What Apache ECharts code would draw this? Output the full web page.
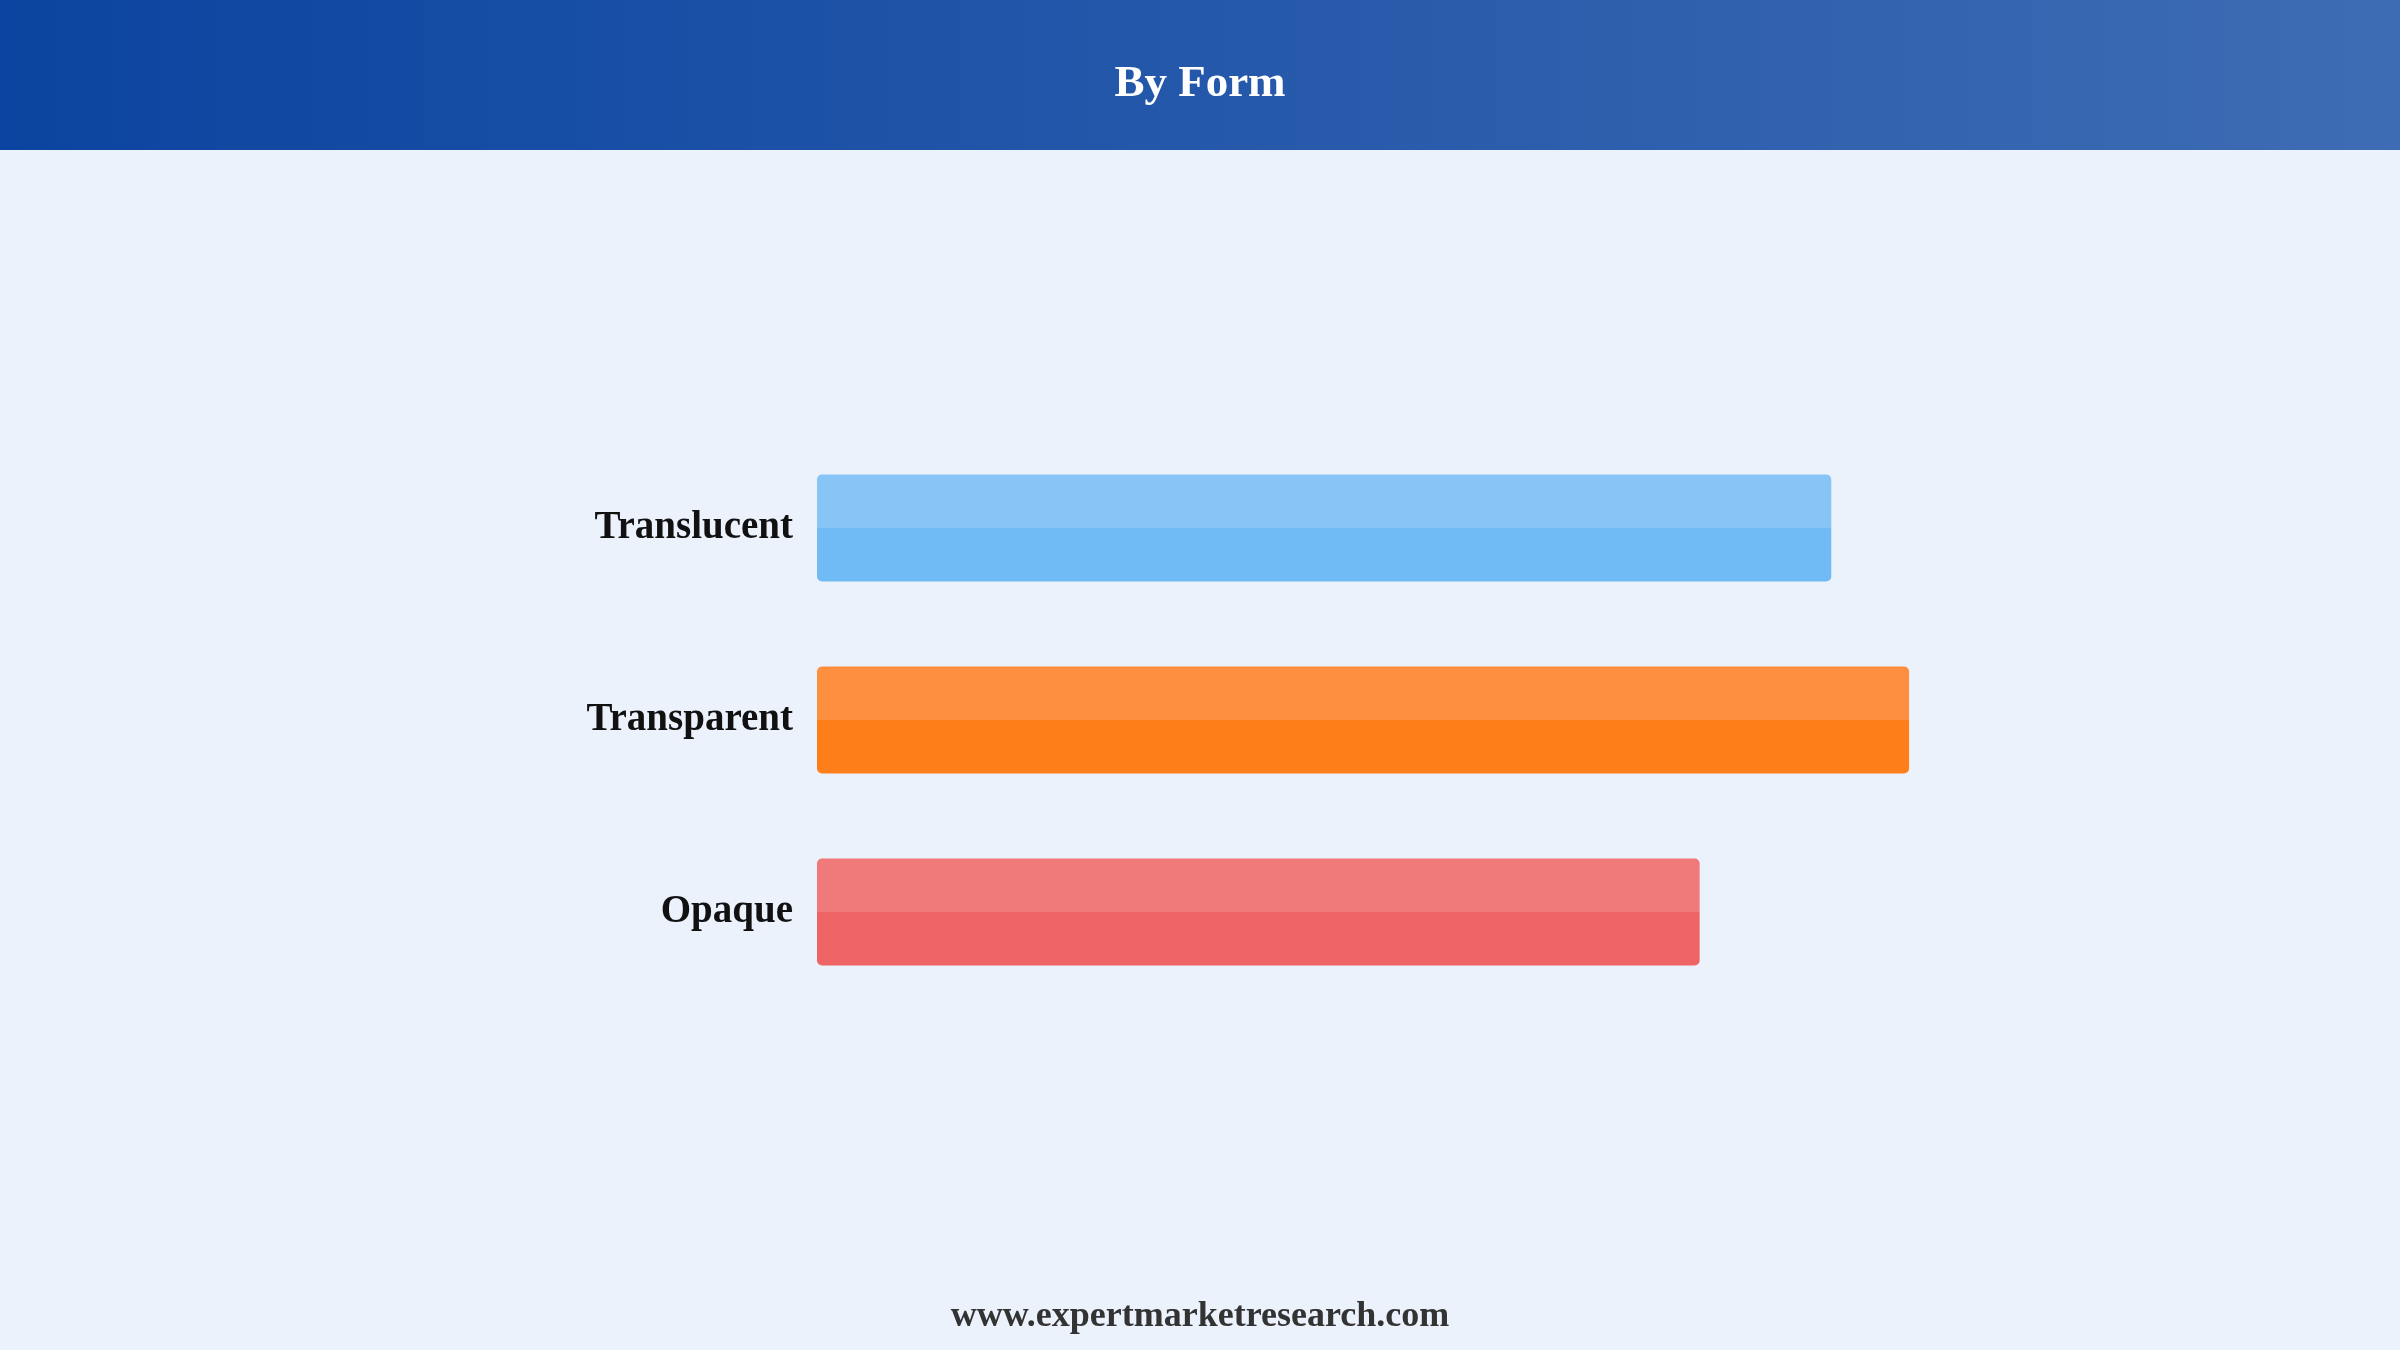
<!DOCTYPE html>
<html>
<head>
<meta charset="utf-8">
<title>By Form</title>
<script src="https://cdn.jsdelivr.net/npm/echarts@6/dist/echarts.min.js"></script>
<style>
    html, body { margin: 0; padding: 0; background: #ebf2fc; }
    #chart { width: 2400px; height: 1350px; }
</style>
</head>
<body>
<div id="chart"></div>
<script>
// data
var categories = ['Translucent', 'Transparent', 'Opaque'];
var shareValues = [33.9, 36.5, 29.5];
var barColors = [
    ['#89c4f6', '#70baf5'],
    ['#fe8f3f', '#fe7f1a'],
    ['#f07979', '#ef6464']
];

var twoTone = function(_pair) {
    // light upper half, darker lower half
    return new echarts.graphic.LinearGradient(0, 0, 0, 1, [
        { offset: 0, color: _pair[0] },
        { offset: 0.5, color: _pair[0] },
        { offset: 0.5, color: _pair[1] },
        { offset: 1, color: _pair[1] }
    ]);
};

var chart = echarts.init(document.getElementById('chart'));

var option = {
    backgroundColor: '#ebf2fc',
    animation: false,
    graphic: [{
        type: 'rect',
        left: 0,
        top: 0,
        z: -1,
        shape: { width: 2400, height: 150 },
        style: {
            fill: new echarts.graphic.LinearGradient(0, 0, 1, 0, [
                { offset: 0, color: '#0b44a0' },
                { offset: 1, color: '#3e6cb4' }
            ])
        }
    }],
    title: [{
        text: 'By Form',
        left: 'center',
        top: 57,
        textStyle: {
            color: '#ffffff',
            fontFamily: 'Liberation Serif',
            fontWeight: 'bold',
            fontSize: 45
        }
    }, {
        text: 'www.expertmarketresearch.com',
        left: 'center',
        top: 1294,
        textStyle: {
            color: '#333333',
            fontFamily: 'Liberation Serif',
            fontWeight: 'bold',
            fontSize: 36
        }
    }],
    grid: {
        left: 817,
        right: 87,
        top: 432,
        bottom: 342,
        containLabel: false
    },
    xAxis: {
        type: 'value',
        min: 0,
        max: 50,
        show: false
    },
    yAxis: {
        type: 'category',
        data: categories,
        inverse: true,
        axisLine: { show: false },
        axisTick: { show: false },
        splitLine: { show: false },
        axisLabel: {
            margin: 24,
            color: '#111111',
            fontFamily: 'Liberation Serif',
            fontWeight: 'bold',
            fontSize: 39,
            padding: [0, 0, 6, 0]
        }
    },
    series: [{
        type: 'bar',
        barWidth: 107,
        data: shareValues.map(function(v, i) {
            return {
                value: v,
                itemStyle: {
                    color: twoTone(barColors[i]),
                    borderRadius: 5
                }
            };
        })
    }]
};

chart.setOption(option);
</script>
</body>
</html>
